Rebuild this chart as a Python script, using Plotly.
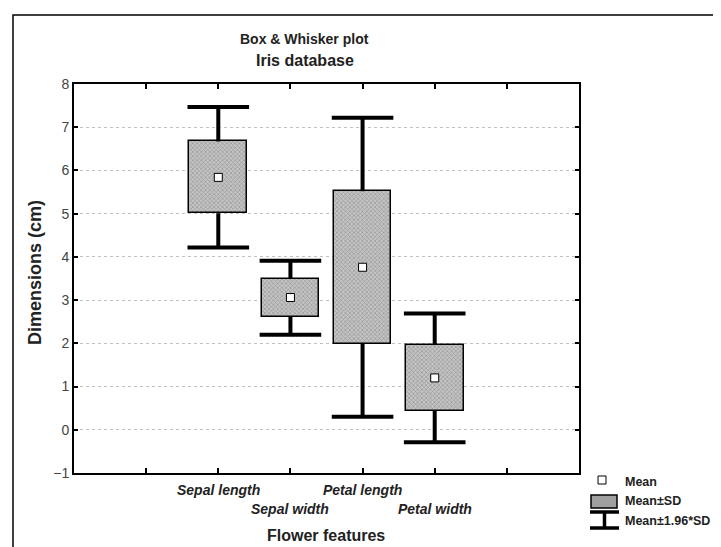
import plotly.graph_objects as go

# ---- data ----
features = ["Sepal length", "Sepal width", "Petal length", "Petal width"]
means = [5.84, 3.06, 3.76, 1.20]
sd_low = [5.01, 2.62, 1.99, 0.44]
sd_high = [6.67, 3.49, 5.52, 1.96]
ci_low = [4.22, 2.20, 0.30, -0.29]
ci_high = [7.47, 3.91, 7.22, 2.69]
y_ticks = [-1, 0, 1, 2, 3, 4, 5, 6, 7, 8]
legend_labels = ["Mean", "Mean\u00b1SD", "Mean\u00b11.96*SD"]

W, H = 721, 547
L, R, T, B = 66, 150, 76, 82
PW, PH = W - L - R, H - T - B


def px(x):
    return (x - L) / PW


def py(y):
    return (H - B - y) / PH


pos = [i + 1 for i in range(len(features))]
FONT = "Liberation Sans, Arial, sans-serif"

fig = go.Figure()

fig.add_trace(go.Bar(
    x=pos, y=[h - l for h, l in zip(sd_high, sd_low)], base=sd_low, width=0.8,
    marker=dict(color="#a0a0a0", line=dict(color="black", width=1.5),
                pattern=dict(shape="x", fgcolor="#6a6a6a", bgcolor="#c4c4c4", size=3, solidity=0.4)),
    showlegend=False, hoverinfo="skip"))

# whisker stems
stem_x, stem_y = [], []
for p, lo, hi, clo, chi in zip(pos, sd_low, sd_high, ci_low, ci_high):
    stem_x += [p, p, None, p, p, None]
    stem_y += [hi, chi, None, lo, clo, None]
fig.add_trace(go.Scatter(x=stem_x, y=stem_y, mode="lines",
                         line=dict(color="black", width=4), showlegend=False, hoverinfo="skip"))

# whisker caps
fig.add_trace(go.Scatter(
    x=pos + pos, y=ci_high + ci_low, mode="markers",
    marker=dict(symbol="line-ew", size=44, line=dict(color="black", width=4)),
    showlegend=False, hoverinfo="skip"))

# means
fig.add_trace(go.Scatter(
    x=pos, y=means, mode="markers",
    marker=dict(symbol="square", size=8, color="white", line=dict(color="black", width=1)),
    showlegend=False, hoverinfo="skip"))

annotations = []
# staggered category labels
for i, (p, f) in enumerate(zip(pos, features)):
    annotations.append(dict(x=p, y=py(482 if i % 2 == 0 else 501), xref="x", yref="paper",
                            text=f"<b><i>{f}</i></b>", showarrow=False,
                            font=dict(family=FONT, size=14, color="#222"), yanchor="middle"))

annotations += [
    dict(x=px(296), y=py(31), xref="paper", yref="paper", text="<b>Box & Whisker plot</b>",
         showarrow=False, font=dict(family=FONT, size=14, color="#222"), yanchor="middle"),
    dict(x=px(297), y=py(52), xref="paper", yref="paper", text="<b>Iris database</b>",
         showarrow=False, font=dict(family=FONT, size=16, color="#222"), yanchor="middle"),
    dict(x=px(318), y=py(527), xref="paper", yref="paper", text="<b>Flower features</b>",
         showarrow=False, font=dict(family=FONT, size=16, color="#222"), yanchor="middle"),
    dict(x=px(27), y=py(265), xref="paper", yref="paper", text="<b>Dimensions (cm)</b>",
         showarrow=False, textangle=-90, font=dict(family=FONT, size=18, color="#222"),
         xanchor="center", yanchor="middle"),
]

legend_y = [474, 493, 513]
for lab, ly in zip(legend_labels, legend_y):
    annotations.append(dict(x=px(615), y=py(ly), xref="paper", yref="paper", text=f"<b>{lab}</b>",
                            showarrow=False, xanchor="left", yanchor="middle",
                            font=dict(family=FONT, size=12.5, color="#222")))

shapes = [
    # outer frame
    dict(type="rect", xref="paper", yref="paper", x0=px(5), x1=px(730), y0=py(556), y1=py(7),
         line=dict(color="black", width=1.5), layer="below"),
    # legend: mean square
    dict(type="rect", xref="paper", yref="paper", x0=px(590), x1=px(598), y0=py(476), y1=py(468),
         fillcolor="white", line=dict(color="black", width=1)),
    # legend: SD box
    dict(type="rect", xref="paper", yref="paper", x0=px(583), x1=px(609), y0=py(500), y1=py(487),
         fillcolor="#a0a0a0", line=dict(color="black", width=1.5)),
    # legend: whisker symbol
    dict(type="line", xref="paper", yref="paper", x0=px(582), x1=px(611), y0=py(504), y1=py(504),
         line=dict(color="black", width=3.5)),
    dict(type="line", xref="paper", yref="paper", x0=px(596.5), x1=px(596.5), y0=py(504), y1=py(520),
         line=dict(color="black", width=3.5)),
    dict(type="line", xref="paper", yref="paper", x0=px(582), x1=px(611), y0=py(520), y1=py(520),
         line=dict(color="black", width=3.5)),
]

fig.update_layout(
    width=W, height=H, margin=dict(l=L, r=R, t=T, b=B, autoexpand=False),
    paper_bgcolor="white", plot_bgcolor="white", showlegend=False,
    annotations=annotations, shapes=shapes, bargap=0,
)
fig.update_xaxes(range=[-1, 6], tickvals=list(range(-1, 7)), showticklabels=False,
                 ticks="inside", ticklen=5, tickwidth=1.5, tickcolor="black",
                 showline=True, linecolor="black", linewidth=2, mirror="ticks",
                 showgrid=False, zeroline=False)
fig.update_yaxes(range=[-1, 8], tickvals=y_ticks, ticks="inside", ticklen=4, tickwidth=1.5,
                 tickcolor="black", showline=True, linecolor="black", linewidth=2, mirror="ticks",
                 showgrid=True, gridcolor="#c0c0c0", griddash="dot", gridwidth=1,
                 zeroline=False, tickfont=dict(family=FONT, size=14, color="#444"))

fig.write_html("out.html")
